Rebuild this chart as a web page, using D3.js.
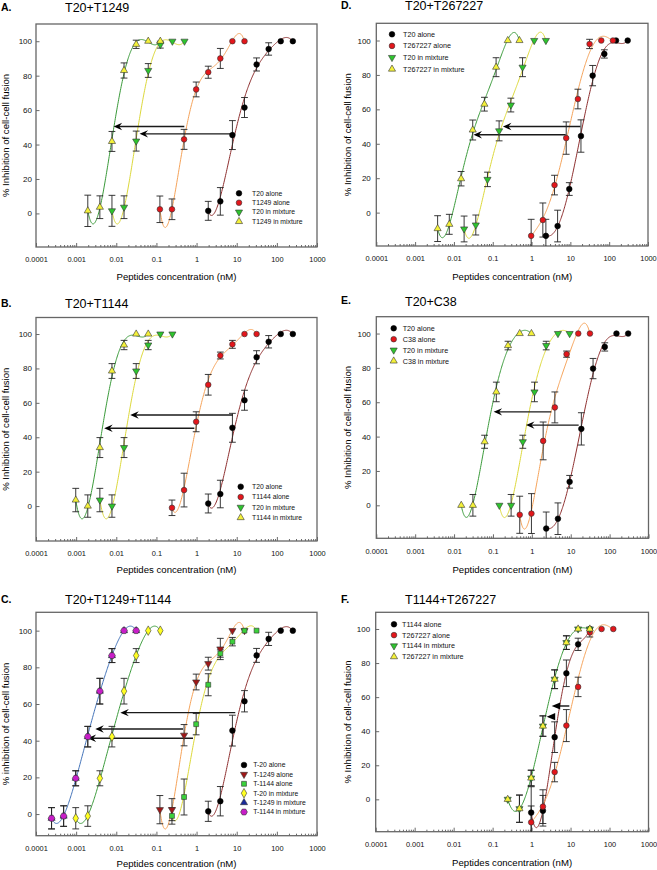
<!DOCTYPE html>
<html>
<head>
<meta charset="utf-8">
<script src="https://cdn.jsdelivr.net/npm/d3@7"></script>
<style>
  body { margin: 0; background: #fff; }
  svg { display: block; font-family: "Liberation Sans", Arial, sans-serif; }
</style>
</head>
<body>
<svg id="fig" width="657" height="870"></svg>
<script>
// ---- axis ticks ----
const xTicks = [1e-4, 1e-3, 1e-2, 1e-1, 1, 10, 100, 1000];
const xTickLabels = ['0.0001', '0.001', '0.01', '0.1', '1', '10', '100', '1000'];
const yTicks = [0, 20, 40, 60, 80, 100];

// ---- T20 alone (panels A, B, C) ----
const concT20 = [1.953, 3.906, 7.813, 15.63, 31.25, 62.5, 125, 250];
const inhT20 = [1.5, 7, 45.5, 61.5, 86.5, 95.5, 100, 100];
const errT20 = [5.5, 8, 8.4, 5.8, 3.8, 3.6, 0, 0];

// ---- T1249 alone (A, C) ----
const concT1249 = [0.122, 0.244, 0.488, 0.977, 1.953, 3.906, 7.813, 15.63];
const inhT1249 = [2.4, 2.4, 43, 72, 82, 90, 100, 100];
const errT1249 = [7.7, 6, 5.8, 4.3, 3.5, 5.8, 0, 0];

// ---- panel A mixtures ----
const concA_T20mix = [0.0078, 0.0156, 0.0313, 0.0625, 0.125, 0.25, 0.5];
const inhA_T20mix = [1.5, 3.6, 42, 83, 98, 100, 100];
const errA_T20mix = [9, 6.6, 5.8, 4, 2, 0, 0];
const concA_T1249mix = [0.00195, 0.0039, 0.0078, 0.0156, 0.0313, 0.0625, 0.125];
const inhA_T1249mix = [1.5, 3.6, 41.8, 83, 98.2, 100, 100];
const errA_T1249mix = [9.1, 6.6, 5.8, 4.4, 2.4, 0, 0];

// ---- T1144 alone (B, C) ----
const concT1144 = [0.244, 0.488, 0.977, 1.953, 3.906, 7.813, 15.63, 31.25];
const inhT1144 = [-1, 9.3, 49, 70.5, 87.5, 94, 100, 100];
const errT1144 = [4.5, 9.8, 5.8, 6, 2, 2.3, 0, 0];

// ---- panel B mixtures ----
const concB_T20mix = [0.0039, 0.0078, 0.0156, 0.0313, 0.0625, 0.125, 0.25];
const concB_T1144mix = [0.000977, 0.00195, 0.0039, 0.0078, 0.0156, 0.0313, 0.0625];
const inhB_mix = [3.5, 0, 34, 78.5, 93.6, 100, 100];
const errB_mix = [6.8, 6.5, 5.8, 4.3, 2.7, 0, 0];

// ---- panel C mixtures ----
const concC_T20mix = [0.000977, 0.00195, 0.0039, 0.0078, 0.0156, 0.0313, 0.0625, 0.125];
const concC_T1144mix = [0.000244, 0.000488, 0.000977, 0.00195, 0.0039, 0.0078, 0.0156, 0.0313];
const inhC_mix = [-2.3, -1.1, 19.5, 42.2, 67, 86.4, 100, 100];
const errC_mix = [5.8, 5.6, 4.1, 5.6, 7, 3.8, 0, 0];

// ---- T20 alone (D, E) ----
const concT20hi = [2.34, 4.69, 9.375, 18.75, 37.5, 75, 150, 300];
const inhT20hi = [-13.5, -7.8, 13.7, 44.5, 79.6, 92.2, 100, 100];
const errT20hi = [9.6, 9.2, 3.7, 9.4, 5.9, 2.4, 0, 0];

// ---- T267227 alone (D, F) ----
const concT267227 = [0.977, 1.953, 3.906, 7.813, 15.63, 31.25, 62.5, 125];
const inhT267227 = [-13.5, -4.3, 16, 43.3, 66, 98, 100, 100];
const errT267227 = [9.6, 9.9, 5.7, 9.4, 5.7, 2.7, 0, 0];

// ---- panel D mixtures ----
const concD_T20mix = [0.0183, 0.0366, 0.0732, 0.146, 0.293, 0.586, 1.17, 2.34];
const inhD_T20mix = [-9.5, -7.2, 19.3, 47.5, 62.5, 84.5, 100, 100];
const concD_T267227mix = [0.0038, 0.0076, 0.0153, 0.0305, 0.061, 0.122, 0.244, 0.488];
const inhD_T267227mix = [-9.3, -6.8, 19.7, 48, 63, 84.5, 100, 100];
const errD_mix = [7.5, 5.8, 4.2, 5.8, 4, 5.5, 0, 0];

// ---- panel E ----
const concC38 = [0.488, 0.977, 1.953, 3.906, 7.813, 15.63, 31.25];
const inhC38 = [-5.5, -4.8, 37.5, 57, 88, 100, 100];
const errC38 = [10.8, 11.6, 11, 9, 1.8, 0, 0];
const concE_T20mix = [0.146, 0.293, 0.586, 1.17, 2.34, 4.69, 9.375];
const concE_C38mix = [0.0153, 0.0305, 0.061, 0.122, 0.244, 0.488, 0.977];
const inhE_mix = [0, 0, 37, 66, 93, 100, 100];
const errE_mix = [0, 6.3, 3.8, 5.7, 2.5, 0, 0];

// ---- panel F ----
const concF_T1144 = [0.977, 1.953, 3.906, 7.813, 15.63, 31.25];
const inhF_T1144 = [-7.8, -6.7, 36.5, 74, 91, 100];
const errF_T1144 = [15.2, 9, 9, 7.8, 3.6, 0];
const concF_mix = [0.244, 0.488, 0.977, 1.953, 3.906, 7.813, 15.63, 31.25];
const inhF_mix = [0, -5.5, 12.5, 43, 70.5, 92, 100, 100];
const errF_mix = [0, 8, 4.6, 6, 5.5, 4, 0, 0];

// ---- shift arrows: [inhibition level, from conc, to conc] ----
const arrowsA = [[50.5, 0.495, 0.0086], [46.2, 8.4, 0.038]];
const arrowsB = [[52.9, 8.1, 0.0223], [45.2, 0.88, 0.005]];
const arrowsC = [[55.3, 9.2, 0.0126], [46.4, 0.46, 0.003], [41.3, 0.815, 0.00193]];
const arrowsD = [[50, 18.1, 0.183], [45.2, 7.57, 0.0319]];
const arrowsE = [[54.4, 3.16, 0.104], [46.7, 16, 0.706]];
const arrowsF = [[54.8, 9.3, 3.28], [48.5, 3.9, 2.44]];

// colours
const BROWN = '#8e2f2f', ORANGE = '#f5a35a', YLINE = '#dcd83a', GLINE = '#3a9a3a', BLINE = '#4272b8';
const BLACK = '#000', RED = '#e3161b', GREEN = '#2ec42e', YELLOW = '#f4f13a',
  DARKRED = '#a01818', SQGREEN = '#3bd13b', DIAYEL = '#ffff22', NAVY = '#1a2a9a', MAGENTA = '#c81ec8';

const FIT_DEGREE = 5;

const symbolHex = {
  draw(ctx, size) {
    const r = Math.sqrt(2 * size / (3 * Math.sqrt(3)));
    for (let i = 0; i < 6; i++) {
      const a = Math.PI / 3 * i;
      if (i === 0) ctx.moveTo(r * Math.cos(a), r * Math.sin(a));
      else ctx.lineTo(r * Math.cos(a), r * Math.sin(a));
    }
    ctx.closePath();
  }
};
const SHAPES = {
  circle: [d3.symbolCircle, 25], up: [d3.symbolTriangle, 22], down: [d3.symbolTriangle, 22],
  square: [d3.symbolSquare, 24], diamond: [d3.symbolDiamond, 26], hex: [symbolHex, 30]
};

const panels = [
  { id: 'A', letter: 'A.', title: 'T20+T1249', box: [36, 24, 317, 247], yDomain: [-19.5, 110],
    letterPos: [1, 11], titlePos: [65, 12], yLabX: 9, xLabY: 279.5, yLabel: '% Inhibition of cell-cell fusion',
    legend: { x: 239, tx: 252, y: 193.3, dy: 9.4, fs: 6.8 }, arrows: arrowsA, arrowStyle: 'notch',
    series: [
      { label: 'T20 alone', conc: concT20, inh: inhT20, err: errT20, shape: 'circle', fill: BLACK, line: BROWN },
      { label: 'T1249 alone', conc: concT1249, inh: inhT1249, err: errT1249, shape: 'circle', fill: RED, line: ORANGE },
      { label: 'T20 in mixture', conc: concA_T20mix, inh: inhA_T20mix, err: errA_T20mix, shape: 'down', fill: GREEN, line: YLINE },
      { label: 'T1249 in mixture', conc: concA_T1249mix, inh: inhA_T1249mix, err: errA_T1249mix, shape: 'up', fill: YELLOW, line: GLINE }
    ] },
  { id: 'B', letter: 'B.', title: 'T20+T1144', box: [36, 317.5, 317, 541], yDomain: [-20.3, 109.6],
    letterPos: [1, 306.5], titlePos: [65, 308], yLabX: 9, xLabY: 573, yLabel: '% Inhibition of cell-cell fusion',
    legend: { x: 240.7, tx: 252, y: 486.7, dy: 10.3, fs: 6.8 }, arrows: arrowsB, arrowStyle: 'notch',
    series: [
      { label: 'T20 alone', conc: concT20, inh: inhT20, err: errT20, shape: 'circle', fill: BLACK, line: BROWN },
      { label: 'T1144 alone', conc: concT1144, inh: inhT1144, err: errT1144, shape: 'circle', fill: RED, line: ORANGE },
      { label: 'T20 in mixture', conc: concB_T20mix, inh: inhB_mix, err: errB_mix, shape: 'down', fill: GREEN, line: YLINE },
      { label: 'T1144 in mixture', conc: concB_T1144mix, inh: inhB_mix, err: errB_mix, shape: 'up', fill: YELLOW, line: GLINE }
    ] },
  { id: 'C', letter: 'C.', title: 'T20+T1249+T1144', box: [36, 612.3, 317, 835.7], yDomain: [-11.8, 110],
    letterPos: [1, 603], titlePos: [65, 604], yLabX: 8.5, xLabY: 867, yLabel: '% inhibition of cell-cell fusion',
    legend: { x: 244, tx: 253.3, y: 765, dy: 9.4, fs: 6.8 }, arrows: arrowsC, arrowStyle: 'notch',
    series: [
      { label: 'T-20 alone', conc: concT20, inh: inhT20, err: errT20, shape: 'circle', fill: BLACK, line: BROWN },
      { label: 'T-1249 alone', conc: concT1249, inh: inhT1249, err: errT1249, shape: 'down', fill: DARKRED, line: ORANGE },
      { label: 'T-1144 alone', conc: concT1144, inh: inhT1144, err: errT1144, shape: 'square', fill: SQGREEN, line: YLINE },
      { label: 'T-20 in mixture', conc: concC_T20mix, inh: inhC_mix, err: errC_mix, shape: 'diamond', fill: DIAYEL, line: GLINE },
      { label: 'T-1249 in mixture', conc: concC_T1144mix, inh: inhC_mix, err: errC_mix, shape: 'up', fill: NAVY, line: null },
      { label: 'T-1144 in mixture', conc: concC_T1144mix, inh: inhC_mix, err: errC_mix, shape: 'hex', fill: MAGENTA, line: BLINE }
    ] },
  { id: 'D', letter: 'D.', title: 'T20+T267227', box: [376.3, 23.3, 648, 246], yDomain: [-19.4, 110],
    letterPos: [341, 9], titlePos: [405, 9.5], yLabX: 351, xLabY: 280, yLabel: '% Inhibition of cell-cell fusion',
    legend: { x: 392, tx: 403, y: 34.3, dy: 11.6, fs: 7.2 }, arrows: arrowsD, arrowStyle: 'notch',
    series: [
      { label: 'T20 alone', conc: concT20hi, inh: inhT20hi, err: errT20hi, shape: 'circle', fill: BLACK, line: BROWN },
      { label: 'T267227 alone', conc: concT267227, inh: inhT267227, err: errT267227, shape: 'circle', fill: RED, line: ORANGE },
      { label: 'T20 in mixture', conc: concD_T20mix, inh: inhD_T20mix, err: errD_mix, shape: 'down', fill: GREEN, line: YLINE },
      { label: 'T267227 in mixture', conc: concD_T267227mix, inh: inhD_T267227mix, err: errD_mix, shape: 'up', fill: YELLOW, line: GLINE }
    ] },
  { id: 'E', letter: 'E.', title: 'T20+C38', box: [376.3, 316.7, 648.5, 538.3], yDomain: [-19.2, 109.8],
    letterPos: [341, 304.3], titlePos: [405, 305.5], yLabX: 351, xLabY: 573, yLabel: '% Inhibition of cell-cell fusion',
    legend: { x: 393.7, tx: 402.7, y: 328.3, dy: 10.9, fs: 7.2 }, arrows: arrowsE, arrowStyle: 'notch',
    series: [
      { label: 'T20 alone', conc: concT20hi, inh: inhT20hi, err: errT20hi, shape: 'circle', fill: BLACK, line: BROWN },
      { label: 'C38 alone', conc: concC38, inh: inhC38, err: errC38, shape: 'circle', fill: RED, line: ORANGE },
      { label: 'T20 in mixture', conc: concE_T20mix, inh: inhE_mix, err: errE_mix, shape: 'down', fill: GREEN, line: YLINE },
      { label: 'C38 in mixture', conc: concE_C38mix, inh: inhE_mix, err: errE_mix, shape: 'up', fill: YELLOW, line: GLINE }
    ] },
  { id: 'F', letter: 'F.', title: 'T1144+T267227', box: [375.7, 612.3, 648.5, 831.7], yDomain: [-19, 109.8],
    letterPos: [341, 603], titlePos: [405, 603.5], yLabX: 350.5, xLabY: 866, yLabel: '% Inhibition of cell-cell fusion',
    legend: { x: 394, tx: 402, y: 624.3, dy: 10.8, fs: 7.2 }, arrows: arrowsF, arrowStyle: 'solid',
    series: [
      { label: 'T1144 alone', conc: concF_T1144, inh: inhF_T1144, err: errF_T1144, shape: 'circle', fill: BLACK, line: BROWN },
      { label: 'T267227 alone', conc: concT267227, inh: inhT267227, err: errT267227, shape: 'circle', fill: RED, line: ORANGE },
      { label: 'T1144 in mixture', conc: concF_mix, inh: inhF_mix, err: errF_mix, shape: 'down', fill: GREEN, line: null },
      { label: 'T267227 in mixture', conc: concF_mix, inh: inhF_mix, err: errF_mix, shape: 'up', fill: YELLOW, line: GLINE }
    ] }
];

const svg = d3.select('#fig');

// Least-squares polynomial in log10(conc): the smooth regression line drawn
// through each series (gives the dips and overshoots seen at the ends).
function polyFit(xs, ys, deg) {
  const m = d3.mean(xs), s = (d3.max(xs) - d3.min(xs)) / 2 || 1;
  const u = xs.map(v => (v - m) / s);
  const k = Math.min(deg, xs.length - 2) + 1;
  const A = d3.range(k).map(r => d3.range(k + 1).map(c =>
    c < k ? d3.sum(u, t => Math.pow(t, r + c)) : d3.sum(u, (t, i) => ys[i] * Math.pow(t, r))));
  for (let col = 0; col < k; col++) {
    let piv = col;
    for (let r = col + 1; r < k; r++) if (Math.abs(A[r][col]) > Math.abs(A[piv][col])) piv = r;
    [A[col], A[piv]] = [A[piv], A[col]];
    for (let r = 0; r < k; r++) {
      if (r === col) continue;
      const f = A[r][col] / A[col][col];
      for (let c = col; c <= k; c++) A[r][c] -= f * A[col][c];
    }
  }
  const coef = A.map((row, i) => row[k] / row[i]);
  return v => { const t = (v - m) / s; return coef.reduce((acc, cf, i) => acc + cf * Math.pow(t, i), 0); };
}

function marker(sel, shape, fill) {
  const [type, size] = SHAPES[shape];
  sel.append('path')
    .attr('d', d3.symbol().type(type).size(size)())
    .attr('transform', shape === 'down' ? 'rotate(180)' : null)
    .attr('fill', fill)
    .attr('stroke', fill === BLACK ? '#000' : '#333')
    .attr('stroke-width', 0.6);
}

function drawPanel(p) {
  const [x0, y0, x1, y1] = p.box;
  const x = d3.scaleLog().domain([1e-4, 1e3]).range([x0, x1]);
  const y = d3.scaleLinear().domain(p.yDomain).range([y1, y0]);
  const g = svg.append('g').attr('class', 'panel-' + p.id);

  const clipId = 'clip-' + p.id;
  svg.append('clipPath').attr('id', clipId)
    .append('rect').attr('x', x0).attr('y', y0).attr('width', x1 - x0).attr('height', y1 - y0);

  // minor log ticks (inward), then majors with labels
  const isMajor = v => Math.abs(Math.log10(v) - Math.round(Math.log10(v))) < 1e-6;
  g.append('g').attr('transform', `translate(0,${y1})`)
    .call(d3.axisBottom(x).tickValues(x.ticks().filter(v => !isMajor(v))).tickSize(-2).tickFormat(''))
    .call(a => a.select('.domain').remove());
  g.append('g').attr('transform', `translate(0,${y1})`)
    .call(d3.axisBottom(x).tickValues(xTicks).tickFormat((d, i) => xTickLabels[i])
      .tickSize(-4).tickSizeOuter(0).tickPadding(10))
    .call(a => a.select('.domain').remove())
    .call(a => a.selectAll('text').attr('font-size', 7.4).attr('fill', '#111').attr('font-family', null));
  g.append('g').attr('transform', `translate(${x0},0)`)
    .call(d3.axisLeft(y).tickValues(yTicks).tickSize(-3.5).tickSizeOuter(0).tickPadding(x0 > 300 ? 5.5 : 4))
    .call(a => a.select('.domain').remove())
    .call(a => a.selectAll('text').attr('font-size', 8).attr('fill', '#111').attr('font-family', null));
  g.selectAll('.tick line').attr('stroke', '#444').attr('stroke-width', 0.8);

  g.append('rect').attr('x', x0).attr('y', y0).attr('width', x1 - x0).attr('height', y1 - y0)
    .attr('fill', 'none').attr('stroke', '#666').attr('stroke-width', 1.3);

  // regression curves over each series' own range
  const line = d3.line().x(d => x(d[0])).y(d => y(d[1]));
  const curves = g.append('g').attr('clip-path', `url(#${clipId})`);
  p.series.filter(s => s.line).forEach(s => {
    const lx = s.conc.map(Math.log10);
    const f = polyFit(lx, s.inh, FIT_DEGREE);
    const lo = lx[0], hi = lx[lx.length - 1];
    const pts = d3.range(0, 201).map(k => {
      const t = lo + (hi - lo) * k / 200;
      return [Math.pow(10, t), f(t)];
    });
    curves.append('path').attr('d', line(pts))
      .attr('fill', 'none').attr('stroke', s.line).attr('stroke-width', 1);
  });

  // shift arrows
  const arr = g.append('g');
  p.arrows.forEach(([lvl, from, to]) => {
    const ya = y(lvl), xt = x(to), xs = x(from);
    if (p.arrowStyle === 'solid') {
      arr.append('line').attr('x1', xt + 7).attr('x2', xs).attr('y1', ya).attr('y2', ya)
        .attr('stroke', '#111').attr('stroke-width', 1.4);
      arr.append('path').attr('d', `M${xt},${ya}L${xt + 8.5},${ya - 3.6}L${xt + 8.5},${ya + 3.6}Z`).attr('fill', '#000');
    } else {
      arr.append('line').attr('x1', xt + 5).attr('x2', xs).attr('y1', ya).attr('y2', ya)
        .attr('stroke', '#1a1a1a').attr('stroke-width', 1.4);
      arr.append('path').attr('d', `M${xt},${ya}L${xt + 8.5},${ya - 3.7}L${xt + 5.5},${ya}L${xt + 8.5},${ya + 3.7}Z`)
        .attr('fill', '#000');
    }
  });

  // error bars
  const eb = g.append('g').attr('clip-path', `url(#${clipId})`)
    .attr('stroke', '#222').attr('stroke-width', 0.9).attr('fill', 'none');
  p.series.forEach(s => {
    s.conc.forEach((c, i) => {
      const e = s.err[i];
      if (!e) return;
      const cx = x(c), yt = y(s.inh[i] + e), yb = y(s.inh[i] - e);
      eb.append('path').attr('d', `M${cx},${yt}V${yb}M${cx - 3.4},${yt}H${cx + 3.4}M${cx - 3.4},${yb}H${cx + 3.4}`);
    });
  });

  // data markers
  p.series.forEach(s => {
    g.append('g').selectAll('g').data(s.conc.map((c, i) => [c, s.inh[i]])).join('g')
      .attr('transform', d => `translate(${x(d[0])},${y(d[1])})`)
      .each(function () { marker(d3.select(this), s.shape, s.fill); });
  });

  // legend
  const L = p.legend;
  p.series.forEach((s, i) => {
    const ly = L.y + i * L.dy;
    marker(g.append('g').attr('transform', `translate(${L.x},${ly})`), s.shape, s.fill);
    g.append('text').attr('x', L.tx).attr('y', ly).attr('dy', '0.35em')
      .attr('font-size', L.fs).attr('fill', '#111').text(s.label);
  });

  // labels
  g.append('text').attr('x', p.letterPos[0]).attr('y', p.letterPos[1])
    .attr('font-size', 10.5).attr('font-weight', 'bold').text(p.letter);
  g.append('text').attr('x', p.titlePos[0]).attr('y', p.titlePos[1])
    .attr('font-size', 12.5).text(p.title);
  g.append('text').attr('transform', `translate(${p.yLabX},${(y0 + y1) / 2}) rotate(-90)`)
    .attr('text-anchor', 'middle').attr('font-size', 9.6).text(p.yLabel);
  g.append('text').attr('x', (x0 + x1) / 2).attr('y', p.xLabY)
    .attr('text-anchor', 'middle').attr('font-size', 9.6).text('Peptides concentration (nM)');
}

panels.forEach(drawPanel);
</script>
</body>
</html>
